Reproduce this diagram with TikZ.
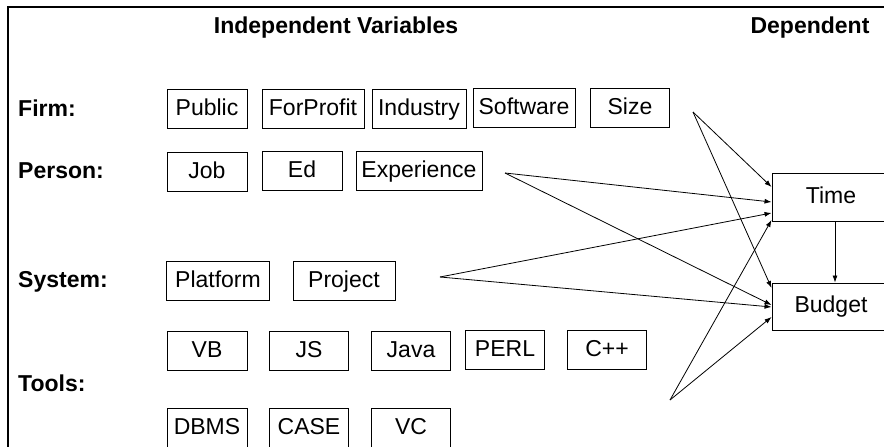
\documentclass[tikz,border=0pt]{standalone}
\usepackage{fontspec}
\setmainfont{Liberation Sans}
\usetikzlibrary{arrows.meta}
\begin{document}
\begin{tikzpicture}[x=1pt,y=-1pt,
  var/.style={draw, line width=0.9pt, minimum height=39pt, inner sep=1pt,
    text height=16.5pt, text depth=4.5pt,
    font=\fontsize{23}{23}\selectfont},
  lbl/.style={anchor=west, inner sep=0pt, text height=16.5pt, text depth=4.5pt,
    font=\bfseries\fontsize{23}{23}\selectfont},
  head/.style={inner sep=0pt, text height=16.5pt, text depth=4.5pt,
    font=\bfseries\fontsize{23}{23}\selectfont},
  link/.style={line width=0.8pt, -{Latex[length=7pt,width=5pt]}}]
\useasboundingbox (0,0) rectangle (884,447);
\clip (0,0) rectangle (884,447);

% frame edges
\coordinate (ftl) at (8,7);
\coordinate (ftr) at (884,7);
\coordinate (fbl) at (8,447);
\draw[line width=1.3pt] (fbl) -- (ftl) -- (ftr);

% headings
\node[head] (indep) at (336,28) {Independent Variables};
\node[head] (dep) at (810,28) {Dependent};

% row labels
\node[lbl] (firm) at (18,110) {Firm:};
\node[lbl] (person) at (18,172) {Person:};
\node[lbl] (system) at (18,281) {System:};
\node[lbl] (tools) at (18,385) {Tools:};

% firm variables
\node[var, minimum width=80pt] (public) at (207,109) {Public};
\node[var, minimum width=102pt] (forprofit) at (313,109) {ForProfit};
\node[var, minimum width=94pt] (industry) at (419,109) {Industry};
\node[var, minimum width=102pt] (software) at (524,108) {Software};
\node[var, minimum width=79pt] (size) at (630,108) {Size};

% person variables
\node[var, minimum width=80pt] (job) at (207,172) {Job};
\node[var, minimum width=80pt] (ed) at (302,171) {Ed};
\node[var, minimum width=126pt] (experience) at (419,171) {Experience};

% system variables
\node[var, minimum width=103pt] (platform) at (218,281) {Platform};
\node[var, minimum width=102pt] (project) at (344,281) {Project};

% tool variables
\node[var, minimum width=80pt] (vb) at (207,351) {VB};
\node[var, minimum width=79pt] (js) at (309,351) {JS};
\node[var, minimum width=79pt] (java) at (411,351) {Java};
\node[var, minimum width=79pt] (perl) at (505,350) {PERL};
\node[var, minimum width=79pt] (cpp) at (607,350) {C++};
\node[var, minimum width=80pt] (dbms) at (207,428) {DBMS};
\node[var, minimum width=79pt] (case) at (309,428) {CASE};
\node[var, minimum width=79pt] (vc) at (411,428) {VC};

% dependent variables
\node[var, minimum width=118pt, minimum height=48pt] (time) at (831,197) {Time};
\node[var, minimum width=118pt, minimum height=47pt] (budget) at (831,306.5) {Budget};

% fan-out points of the groups
\coordinate (szfan) at (693,112);
\coordinate (exfan) at (505,173);
\coordinate (pjfan) at (440,277);
\coordinate (tlfan) at (670,400);

% connectors
\draw[link] (szfan) -- ([yshift=10pt]time.west);
\draw[link] (szfan) -- ([yshift=18.5pt]budget.west);
\draw[link] (exfan) -- ([yshift=-5pt]time.west);
\draw[link] (exfan) -- ([yshift=1.5pt]budget.west);
\draw[link] (pjfan) -- ([yshift=-16pt]time.west);
\draw[link] (pjfan) -- ([yshift=-0.5pt]budget.west);
\draw[link] (tlfan) -- ([yshift=-23pt]time.west);
\draw[link] (tlfan) -- ([yshift=-10.5pt]budget.west);
\draw[link] ([xshift=4pt]time.south) -- ([xshift=4pt]budget.north);
\end{tikzpicture}
\end{document}
